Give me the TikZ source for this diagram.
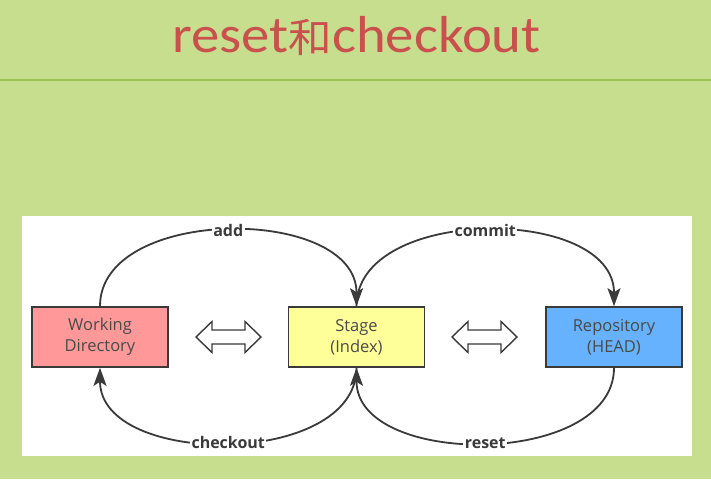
\documentclass[tikz,border=0pt]{standalone}
\usepackage{fontspec}
\setmainfont{Open Sans}
\newfontfamily\titlefont{Carlito}
\newfontfamily\cjkfont{Noto Sans CJK SC}
\usetikzlibrary{arrows.meta}
\definecolor{bggreen}{HTML}{C6DE8E}
\definecolor{linegreen}{HTML}{9CC152}
\definecolor{titlered}{HTML}{C9504C}
\definecolor{wdpink}{HTML}{FF9999}
\definecolor{stageyellow}{HTML}{FFFF99}
\definecolor{repoblue}{HTML}{66B2FF}
\definecolor{edgegray}{HTML}{3A3A3A}
\definecolor{textgray}{HTML}{4A4A4A}
\tikzset{
  statebox/.style={draw=edgegray, line width=1.6pt, minimum width=136pt, minimum height=60pt,
    inner sep=0pt, align=center, text=textgray, font=\fontsize{16.5}{21}\selectfont},
  flow/.style={draw=edgegray, line width=1.8pt, -{Stealth[length=18pt,width=13pt,inset=4pt]}},
  flowlabel/.style={fill=white, inner sep=1.5pt, text=edgegray, font=\bfseries\fontsize{16}{18}\selectfont},
  hollowarrow/.style={draw=edgegray, line width=1.4pt, fill=white, line join=miter}
}
\begin{document}
\begin{tikzpicture}[x=1pt,y=-1pt]
  % background
  \fill[bggreen] (0,0) rectangle (711,479);
  \useasboundingbox (0,0) rectangle (711,479);
  \draw[linegreen, line width=1.6pt] (0,80) -- (711,80);
  % title
  \node[anchor=base, text=titlered, inner sep=0pt, font=\titlefont\fontsize{52}{56}\selectfont] (title) at (356.5,52)
    {\scalebox{1.09}[1]{reset{\cjkfont\fontsize{40}{44}\selectfont 和}checkout}};
  % white panel
  \fill[white] (22,216) rectangle (692,456);
  % boxes
  \node[statebox, fill=wdpink] (wd) at (100,337) {Working\\Directory};
  \node[statebox, fill=stageyellow] (stage) at (356.5,337) {Stage\\(Index)};
  \node[statebox, fill=repoblue] (repo) at (614,337) {Repository\\(HEAD)};
  % hollow double arrows
  \draw[hollowarrow] (196,337) -- (212,321.5) -- (212,330) -- (245,330) -- (245,321.5) -- (261,337)
    -- (245,352.5) -- (245,344) -- (212,344) -- (212,352.5) -- cycle;
  \draw[hollowarrow] (452,337) -- (468,321.5) -- (468,330) -- (501,330) -- (501,321.5) -- (517,337)
    -- (501,352.5) -- (501,344) -- (468,344) -- (468,352.5) -- cycle;
  % curved connectors
  \draw[flow] (wd.north) .. controls ([yshift=101pt]wd.north) and ([yshift=101pt]stage.north) .. (stage.north)
    node[flowlabel, pos=0.5] (addlbl) {add};
  \draw[flow] (stage.north) .. controls ([yshift=101pt]stage.north) and ([yshift=101pt]repo.north) .. (repo.north)
    node[flowlabel, pos=0.5] (commitlbl) {commit};
  \draw[flow] (stage.south) .. controls ([yshift=-100pt]stage.south) and ([yshift=-100pt]wd.south) .. (wd.south)
    node[flowlabel, pos=0.5] (checkoutlbl) {checkout};
  \draw[flow] (repo.south) .. controls ([yshift=-100pt]repo.south) and ([yshift=-100pt]stage.south) .. (stage.south)
    node[flowlabel, pos=0.5] (resetlbl) {reset};
\end{tikzpicture}
\end{document}
